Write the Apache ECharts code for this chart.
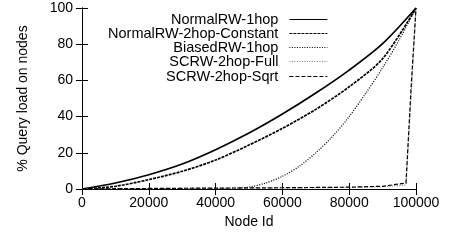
<!DOCTYPE html>
<html>
<head>
    <meta charset="utf-8"/>
    <script src="https://cdn.jsdelivr.net/npm/echarts@6/dist/echarts.min.js"></script>
</head>
<body style="margin:0">
<div id="main" style="width: 469px; height: 240px;"></div>
<script type="text/javascript">
    // node ids (x) for the two NormalRW curves
    var normalIds = [0, 10000, 20000, 30000, 40000, 50000, 60000, 70000, 80000, 90000, 100000];
    var normal1hop = [0, 3.3, 7.9, 13.8, 21.7, 30.9, 41.4, 53, 65.7, 80.3, 100];
    var normal2hopConst = [0, 1.5, 5.2, 9.8, 16, 24.3, 33.5, 44, 56.5, 72, 100];

    // BiasedRW-1hop
    var biasedIds = [0, 40000, 45000, 50000, 55000, 60000, 65000, 70000, 75000, 80000, 85000, 90000, 95000, 100000];
    var biased1hop = [0, 0, 0.1, 1, 3.3, 7, 12.5, 20, 29, 40, 53, 67, 82.5, 100];

    // SCRW curves stay flat until the very last nodes
    var scrwIds = [0, 20000, 40000, 60000, 80000, 90000, 97000, 98500, 100000];
    var scrwFull = [0, 0.2, 0.4, 0.6, 0.9, 1.3, 2.2, 50, 100];
    var scrwSqrt = [0, 0.3, 0.5, 0.7, 1.0, 1.5, 3.3, 55, 100];

    var names = ['NormalRW-1hop', 'NormalRW-2hop-Constant', 'BiasedRW-1hop', 'SCRW-2hop-Full', 'SCRW-2hop-Sqrt'];
    var xs = [normalIds, normalIds, biasedIds, scrwIds, scrwIds];
    var values = [normal1hop, normal2hopConst, biased1hop, scrwFull, scrwSqrt];
    var smooth = [0.3, 0.3, 0.3, false, false];
    var styles = [
        {color: '#000', type: 'solid', width: 1.7},
        {color: '#000', type: [3, 1], width: 1.7},
        {color: '#000', type: [1, 1.5], width: 1.3},
        {color: '#777', type: [1, 1.5], width: 1.2},
        {color: '#000', type: [4, 2], width: 1.2}
    ];

    var font = 'Liberation Sans, Arial, sans-serif';

    var series = names.map(function (n, i) {
        return {
            name: n,
            type: 'line',
            symbol: 'none',
            smooth: smooth[i],
            lineStyle: styles[i],
            itemStyle: {color: styles[i].color},
            data: xs[i].map(function (x, j) { return [x, values[i][j]]; })
        };
    });

    var legendTops = [12, 26, 40, 54, 69];
    var legends = names.map(function (n, i) {
        return {
            data: [n],
            right: 141,
            top: legendTops[i],
            align: 'right',
            itemWidth: 38,
            itemHeight: 10,
            itemGap: 0,
            padding: 0,
            itemStyle: {opacity: 0},
            lineStyle: {width: 1.2},
            textStyle: {fontFamily: font, fontSize: 14.5, color: '#000', padding: [0, 6, 0, 0]}
        };
    });

    var axisLine = {show: true, lineStyle: {color: '#000', width: 1}};
    var tick = {show: true, inside: true, length: 6, lineStyle: {color: '#000'}};
    var plain = function (v) { return String(v); };

    var myChart = echarts.init(document.getElementById('main'));
    myChart.setOption({
        backgroundColor: '#fff',
        animation: false,
        legend: legends,
        grid: {left: 82, right: 53, top: 8, bottom: 51},
        xAxis: [{
            type: 'value', min: 0, max: 100000, interval: 20000,
            name: 'Node Id', nameLocation: 'middle', nameGap: 22,
            nameTextStyle: {fontFamily: font, fontSize: 14, color: '#000'},
            axisLine: axisLine, axisTick: tick, splitLine: {show: false},
            axisLabel: {fontFamily: font, fontSize: 14, color: '#000', margin: 7, formatter: plain}
        }, {
            type: 'value', position: 'top', min: 0, max: 100000, interval: 20000,
            axisLine: axisLine, axisTick: tick, splitLine: {show: false},
            axisLabel: {show: false}
        }],
        yAxis: [{
            type: 'value', min: 0, max: 100, interval: 20,
            name: '% Query load on nodes', nameLocation: 'middle', nameGap: 52,
            nameTextStyle: {fontFamily: font, fontSize: 14, color: '#000'},
            axisLine: axisLine, axisTick: tick, splitLine: {show: false},
            axisLabel: {fontFamily: font, fontSize: 14, color: '#000', margin: 9, formatter: plain}
        }, {
            type: 'value', position: 'right', min: 0, max: 100, interval: 20,
            axisLine: axisLine, axisTick: tick, splitLine: {show: false},
            axisLabel: {show: false}
        }],
        series: series
    });
</script>
</body>
</html>
